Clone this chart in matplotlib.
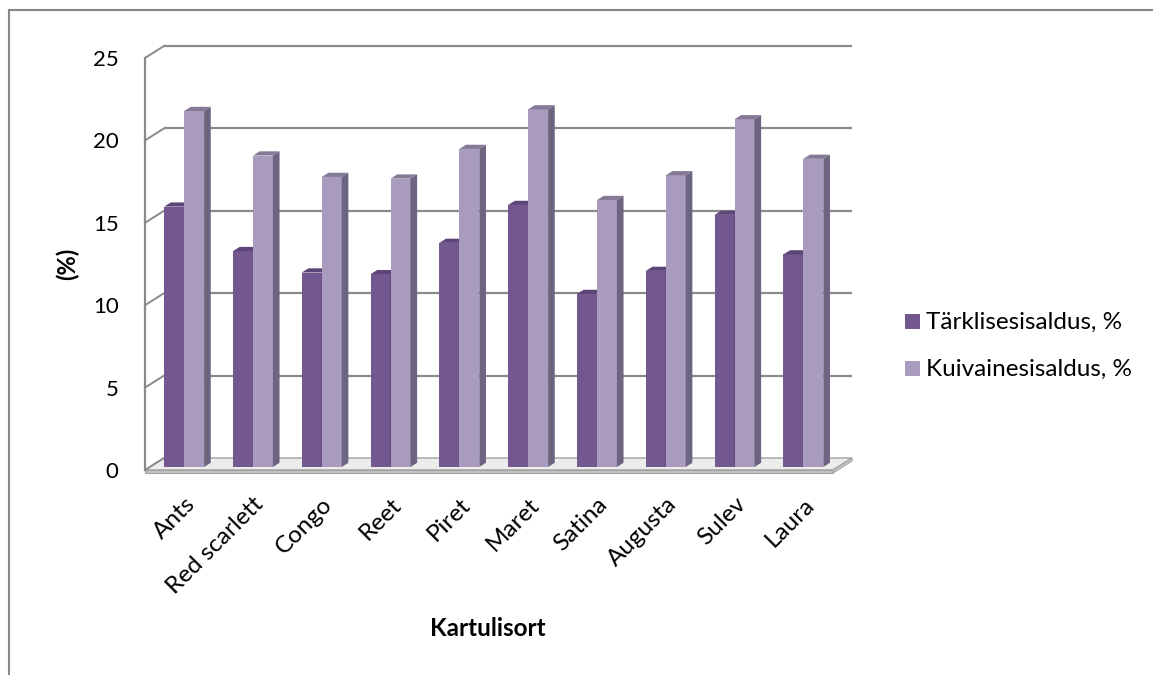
import numpy as np
import matplotlib.pyplot as plt
from matplotlib.patches import Polygon, Rectangle
from matplotlib.lines import Line2D

plt.rcParams['font.family'] = ['Lato', 'DejaVu Sans']

# data
sorts = ["Ants", "Red scarlett", "Congo", "Reet", "Piret", "Maret",
         "Satina", "Augusta", "Sulev", "Laura"]
starch = [15.8, 13.1, 11.8, 11.7, 13.6, 15.9, 10.5, 11.9, 15.3, 12.9]
dry_matter = [21.6, 18.9, 17.6, 17.5, 19.3, 21.7, 16.2, 17.7, 21.1, 18.7]
series_names = ["Tärklisesisaldus, %", "Kuivainesisaldus, %"]

W, H = 1153, 675
fig = plt.figure(figsize=(W / 100, H / 100), dpi=100)

# outer chart border (only left and top visible)
fig.add_artist(Line2D([9 / W, 9 / W], [0, 1 - 10 / H], color="#878787", lw=1.5))
fig.add_artist(Line2D([9 / W, 1], [1 - 10 / H, 1 - 10 / H], color="#878787", lw=1.5))

ax = fig.add_axes([145 / W, 1 - 470 / H, (833 - 145) / W, (470 - 58) / H])
ax.set_xlim(-0.5, 9.5)
ax.set_ylim(0, 25)
for s in ax.spines.values():
    s.set_visible(False)

# pixel -> data units for the 3D depth offset
px_x = 1 / 68.8
px_y = 25 / 412
DX, DY = 19 * px_x, 12 * px_y

grid_c = "#8a8a8a"
# floor
floor = Polygon([(-0.5, 0), (9.5, 0), (9.5 + DX, DY), (-0.5 + DX, DY)],
                closed=True, fc="#ececec", ec="#a0a0a0", lw=1, zorder=1, clip_on=False)
ax.add_patch(floor)
ax.add_patch(Rectangle((-0.5, -3 * px_y), 10, 3 * px_y, fc="#c4c4c4", ec="#a0a0a0",
                       lw=0.8, zorder=1, clip_on=False))
ax.add_patch(Polygon([(9.5, -3 * px_y), (9.5 + DX, DY - 3 * px_y), (9.5 + DX, DY), (9.5, 0)],
                     closed=True, fc="#cccccc", ec="#a0a0a0", lw=0.8, zorder=1, clip_on=False))

# back wall gridlines and left wall lines
for v in range(0, 26, 5):
    if v > 0:
        ax.plot([-0.5 + DX, 9.5 + DX], [v + DY, v + DY], color=grid_c, lw=1.6,
                zorder=1, clip_on=False, solid_capstyle="butt")
    ax.plot([-0.5, -0.5 + DX], [v, v + DY], color=grid_c, lw=1.4, zorder=1, clip_on=False)
ax.plot([-0.5, -0.5], [0, 25], color=grid_c, lw=1.6, zorder=2, clip_on=False)

# bars
x = np.arange(len(sorts))
w = 0.29
d0 = 0.25
ox, oy = d0 * DX, d0 * DY
bx, by = 0.35 * DX, 0.35 * DY

styles = [
    (starch, -w, "#735890", "#5e4578", "#4f3a66", 3),
    (dry_matter, 0, "#a99bbd", "#847a98", "#6d6480", 4),
]
for vals, shift, c_front, c_top, c_side, z in styles:
    x0 = x + ox + shift
    ax.bar(x0, vals, width=w, bottom=oy, align="edge", color=c_front, zorder=z)
    for xi, v in zip(x0, vals):
        top = v + oy
        ax.add_patch(Polygon([(xi, top), (xi + w, top), (xi + w + bx, top + by), (xi + bx, top + by)],
                             closed=True, fc=c_top, ec="none", zorder=z, clip_on=False))
        ax.add_patch(Polygon([(xi + w, oy), (xi + w + bx, oy + by), (xi + w + bx, top + by), (xi + w, top)],
                             closed=True, fc=c_side, ec="none", zorder=z, clip_on=False))

# axes text
ax.set_yticks(range(0, 26, 5))
ax.tick_params(axis="y", length=0, labelsize=16, pad=19)
ax.set_xticks(x + ox)
ax.set_xticklabels(sorts, rotation=45, ha="right", va="top", rotation_mode="anchor", fontsize=17.5)
ax.tick_params(axis="x", length=0, pad=17)
ax.set_ylabel("(%)", fontsize=17, fontweight="bold", labelpad=10)
fig.text(488 / W, 1 - 628 / H, "Kartulisort", fontsize=17.5, fontweight="bold",
         ha="center", va="center")

# legend
for k, (name, col) in enumerate(zip(series_names, ["#735890", "#a99bbd"])):
    yc = 1 - (322 + 47 * k) / H
    fig.add_artist(Rectangle((905 / W, yc - 7 / H), 15 / W, 15 / H, fc=col, ec="none",
                             transform=fig.transFigure))
    fig.text(926 / W, yc, name, fontsize=17.5, ha="left", va="center")

fig.savefig("out.png", dpi=100, facecolor="white")
